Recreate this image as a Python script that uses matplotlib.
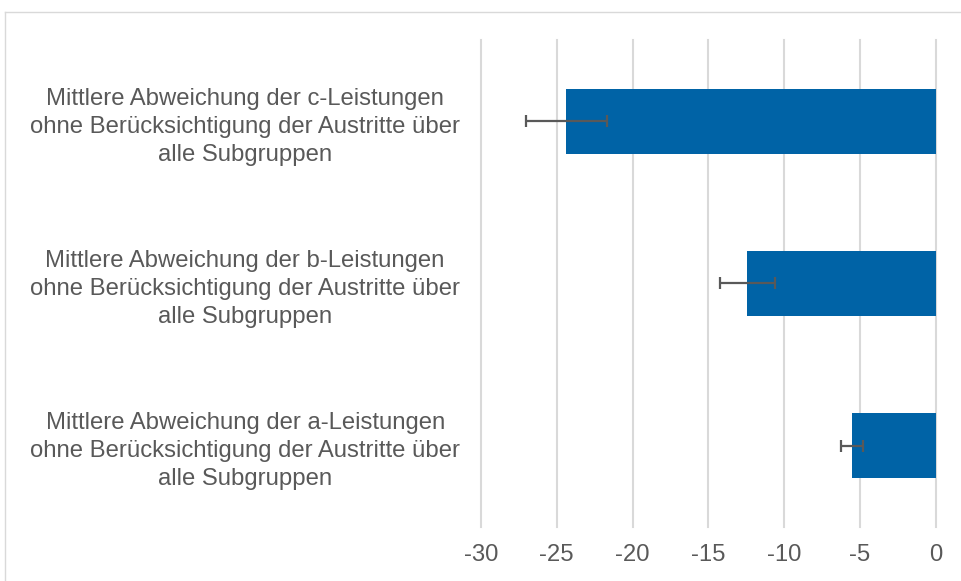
import matplotlib.pyplot as plt
from matplotlib.lines import Line2D

plt.rcParams['font.family'] = ['Liberation Sans', 'DejaVu Sans']

labels = [
    "Mittlere Abweichung der c-Leistungen\nohne Berücksichtigung der Austritte über\nalle Subgruppen",
    "Mittlere Abweichung der b-Leistungen\nohne Berücksichtigung der Austritte über\nalle Subgruppen",
    "Mittlere Abweichung der a-Leistungen\nohne Berücksichtigung der Austritte über\nalle Subgruppen",
]
values = [-24.37, -12.43, -5.55]
errors = [2.66, 1.82, 0.72]
xticks = [-30, -25, -20, -15, -10, -5, 0]

text_col = '#595959'
grid_col = '#D9D9D9'

fig = plt.figure(figsize=(9.62, 5.81), dpi=100)
ax = fig.add_axes([0.5, 0.0929, 0.4727, 0.8383])

pos = [2, 1, 0]
ax.barh(pos, values, height=0.4, color='#0063A6', zorder=3)
ax.errorbar(values, pos, xerr=errors, fmt='none', ecolor=text_col,
            elinewidth=1.6, capsize=4.5, capthick=1.6, zorder=4)

ax.set_xlim(-30, 0)
ax.set_ylim(-0.5, 2.5)
ax.set_xticks(xticks)
ax.set_xticklabels([str(t) for t in xticks])
ax.set_yticks(pos)
ax.set_yticklabels(labels, multialignment='center', linespacing=1.35)
ax.tick_params(axis='both', length=0, labelsize=17.2, labelcolor=text_col)
ax.tick_params(axis='y', pad=15)
ax.tick_params(axis='x', pad=12)
ax.grid(axis='x', color=grid_col, linewidth=1.5, zorder=0)
for s in ax.spines.values():
    s.set_visible(False)
for gl in ax.get_xgridlines():
    gl.set_clip_on(False)

# outer chart border (partially cropped)
fig.add_artist(Line2D([4.5 / 962, 4.5 / 962], [0, 1 - 11.5 / 581],
                      transform=fig.transFigure, color=grid_col, linewidth=1))
fig.add_artist(Line2D([4.5 / 962, 1], [1 - 11.5 / 581, 1 - 11.5 / 581],
                      transform=fig.transFigure, color=grid_col, linewidth=1))

fig.savefig('out.png', dpi=100)
